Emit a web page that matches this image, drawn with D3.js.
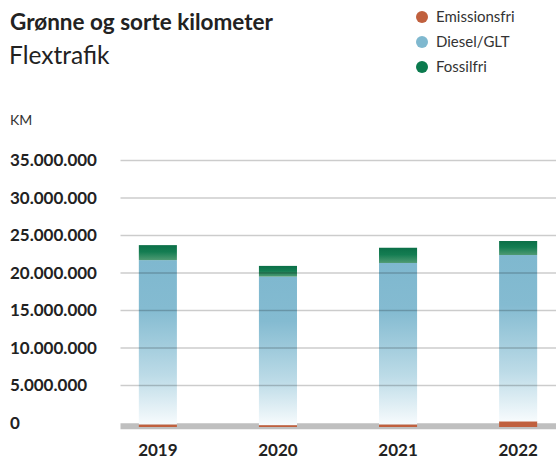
<!DOCTYPE html>
<html><head><meta charset="utf-8">
<script src="https://cdn.jsdelivr.net/npm/d3@7"></script>
<style>
body{margin:0;background:#fff;}
svg{display:block;font-family:"Source Sans Pro","Lato","Noto Sans",sans-serif;}
</style></head>
<body><svg id="c" width="556" height="459"></svg>
<script>
const years = ["2019","2020","2021","2022"];
const seriesNames = ["Emissionsfri","Diesel/GLT","Fossilfri"];
const emissionsfri = [350000, 250000, 350000, 760000];
const diesel = [21900000, 19800000, 21520000, 22170000];
const fossilfri = [2000000, 1430000, 2030000, 1870000];
const yTicks = [0, 5000000, 10000000, 15000000, 20000000, 25000000, 30000000, 35000000];
const colors = {"Emissionsfri":"#c0603e","Diesel/GLT":"#7fb8cf","Fossilfri":"#0b7a4e"};

const svg = d3.select("#c");
const loc = d3.formatLocale({decimal:",",thousands:".",grouping:[3],currency:["",""]});
const fmt = loc.format(",d");

const x = d3.scaleBand().domain(years).range([98, 578]).paddingInner(0.683).paddingOuter(0.34);
const y = d3.scaleLinear().domain([0, 35000000]).range([423, 160.5]);
const barShift = 4;

const defs = svg.append("defs");
const gB = defs.append("linearGradient").attr("id","gBlue").attr("x1",0).attr("y1",0).attr("x2",0).attr("y2",1);
gB.append("stop").attr("offset",0).attr("stop-color","#7fb8cf");
gB.append("stop").attr("offset",0.3).attr("stop-color","#84bbd1");
gB.append("stop").attr("offset",0.7).attr("stop-color","#bcdbe7");
gB.append("stop").attr("offset",1).attr("stop-color","#f7fbfd");
const gG = defs.append("linearGradient").attr("id","gGreen").attr("x1",0).attr("y1",0).attr("x2",0).attr("y2",1);
gG.append("stop").attr("offset",0).attr("stop-color","#0b6f47");
gG.append("stop").attr("offset",0.45).attr("stop-color","#147d52");
gG.append("stop").attr("offset",1).attr("stop-color","#4f9a73");
const fills = {"Emissionsfri":colors["Emissionsfri"],"Diesel/GLT":"url(#gBlue)","Fossilfri":"url(#gGreen)"};

// title
svg.append("text").attr("x",10).attr("y",30).attr("font-size",22.5).attr("font-weight",700).attr("fill","#222").text("Grønne og sorte kilometer");
svg.append("text").attr("x",9).attr("y",64).attr("font-size",24.5).attr("fill","#222").text("Flextrafik");

// legend
const lg = svg.append("g");
seriesNames.forEach((n,i)=>{
  lg.append("circle").attr("cx",422).attr("cy",17+i*25).attr("r",6).attr("fill",colors[n]);
  lg.append("text").attr("x",436).attr("y",17+i*25).attr("dy","0.35em").attr("font-size",15).attr("fill","#333").text(n);
});

svg.append("text").attr("x",10).attr("y",120).attr("dy","0.35em").attr("font-size",14).attr("fill","#333").text("KM");

// y tick labels
svg.append("g").selectAll("text").data(yTicks).join("text")
  .attr("x",10).attr("y",d=>y(d)).attr("dy","0.35em")
  .attr("font-size",17).attr("font-weight",700).attr("fill","#222").text(d=>fmt(d));

// baseline band
svg.append("line").attr("x1",120.5).attr("x2",556).attr("y1",y(0)+3.3).attr("y2",y(0)+3.3)
  .attr("stroke","#bfbfbf").attr("stroke-width",6);

// stacked bars
const rows = years.map((yr,i)=>({year:yr,"Emissionsfri":emissionsfri[i],"Diesel/GLT":diesel[i],"Fossilfri":fossilfri[i]}));
const stack = d3.stack().keys(seriesNames)(rows);
const bars = svg.append("g").attr("transform",`translate(0,${barShift})`);
stack.forEach(s=>{
  bars.append("g").attr("fill",fills[s.key]).selectAll("rect").data(s).join("rect")
    .attr("x",d=>x(d.data.year)).attr("width",x.bandwidth())
    .attr("y",d=>y(d[1])).attr("height",d=>y(d[0])-y(d[1]));
});

// gridlines on top (semi transparent)
svg.append("g").selectAll("line").data(yTicks.filter(d=>d>0)).join("line")
  .attr("x1",120.5).attr("x2",556).attr("y1",d=>y(d)).attr("y2",d=>y(d))
  .attr("stroke","#000").attr("stroke-opacity",0.2).attr("stroke-width",1.6);

// x labels
svg.append("g").selectAll("text").data(years).join("text")
  .attr("x",d=>x(d)+x.bandwidth()/2).attr("y",450).attr("dy","0.35em").attr("text-anchor","middle")
  .attr("font-size",17).attr("font-weight",700).attr("fill","#222").text(d=>d);
</script></body></html>
